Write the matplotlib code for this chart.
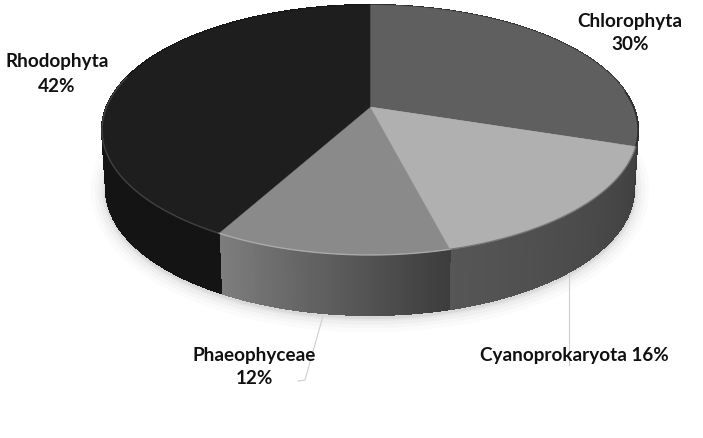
import numpy as np
import matplotlib.pyplot as plt
import matplotlib.colors as mcolors

labels = ['Chlorophyta', 'Cyanoprokaryota', 'Phaeophyceae', 'Rhodophyta']
values = [30, 16, 12, 42]
top_colors = ['#5f5f5f', '#b0b0b0', '#8a8a8a', '#1e1e1e']
# wall colour at the start and the end of each slice (clockwise)
wall_colors = [('#2c2c2c', '#3a3a3a'), ('#404040', '#565656'), ('#3c3c3c', '#7e7e7e'), ('#141414', '#141414')]
rim_colors = ['#222222', '#6e6e6e', '#b4b4b4', '#4c4c4c']

W, H = 703, 438
CX, CY, RX, RY = 370, 130, 268, 125
PERSP = -0.184  # moves the centre of the disc up, away from the viewer
DEPTH = 59


def disc_point(theta, cx=CX, cy=CY, rx=RX, ry=RY, r=1.0):
    # theta clockwise from 12 o'clock, circle seen in perspective
    u = r * np.sin(theta)
    v = -r * np.cos(theta)
    d = 1 + PERSP * v
    x = u * np.sqrt(1 - PERSP**2) / d
    y = (v + PERSP) / d
    return cx + rx * x, cy + ry * y


def bottom_point(theta):
    return disc_point(theta, cy=CY + DEPTH, rx=RX - 4, ry=RY + 1)


def draw_shadow(ax):
    t = np.linspace(np.radians(70), np.radians(290), 200)
    x, y = bottom_point(t)
    for lw, alpha in [(22, 0.025), (16, 0.035), (11, 0.05), (6, 0.07), (3, 0.1)]:
        ax.plot(x, y + 2, color='#707070', lw=lw, alpha=alpha, solid_capstyle='round', zorder=1)


def draw_walls(ax, edges):
    for i in range(len(values)):
        c0 = np.array(mcolors.to_rgb(wall_colors[i][0]))
        c1 = np.array(mcolors.to_rgb(wall_colors[i][1]))
        t = np.linspace(edges[i], edges[i+1], 61)
        for j in range(60):
            tt = np.linspace(t[j], t[j+1], 3)
            xt, yt = disc_point(tt)
            xb, yb = bottom_point(tt)
            col = c0 + (c1 - c0) * (j + 0.5) / 60
            ax.fill(np.r_[xt, xb[::-1]], np.r_[yt, yb[::-1]], color=col, lw=0.8, antialiased=False, zorder=2)


def draw_tops(ax, edges):
    lo, hi = np.radians(82), np.radians(285)
    for i in range(len(values)):
        t = np.linspace(edges[i], edges[i+1], 150)
        x, y = disc_point(t)
        ax0, ay0 = disc_point(0.0, r=0.0)
        ax.fill(np.r_[ax0, x], np.r_[ay0, y], color=top_colors[i], lw=0.4, zorder=3)
        # only the edge that faces the viewer catches the light
        front = (t > lo) & (t < hi)
        ax.plot(x[front], y[front], color=rim_colors[i], lw=1.0, alpha=0.8, zorder=4)


def main():
    plt.rcParams['font.family'] = ['Lato', 'DejaVu Sans']
    fig = plt.figure(figsize=(W / 100, H / 100), dpi=100)
    ax = fig.add_axes([0, 0, 1, 1])
    ax.set_xlim(0, W)
    ax.set_ylim(H, 0)
    ax.axis('off')

    fractions = np.array(values) / sum(values)
    edges = np.r_[0, np.cumsum(fractions)] * 2 * np.pi

    draw_shadow(ax)
    draw_walls(ax, edges)
    draw_tops(ax, edges)

    # leader lines
    ax.plot([569, 569], [270, 365], color='#cfcfcf', lw=0.8, zorder=1.5)
    ax.plot([323, 305, 298], [316, 380, 381], color='#cfcfcf', lw=0.8, zorder=1.5)

    style = dict(ha='center', va='center', fontsize=13.6, fontweight='bold', color='#111111', zorder=6, linespacing=1.5)
    ax.text(630, 33, '%s\n%d%%' % (labels[0], values[0]), **style)
    ax.text(574, 355, '%s %d%%' % (labels[1], values[1]), **style)
    ax.text(254, 367, '%s\n%d%%' % (labels[2], values[2]), **style)
    ax.text(57, 74, '%s\n%d%%' % (labels[3], values[3]), **style)

    fig.savefig('out.png', dpi=100, facecolor='white')


if __name__ == '__main__':
    main()
